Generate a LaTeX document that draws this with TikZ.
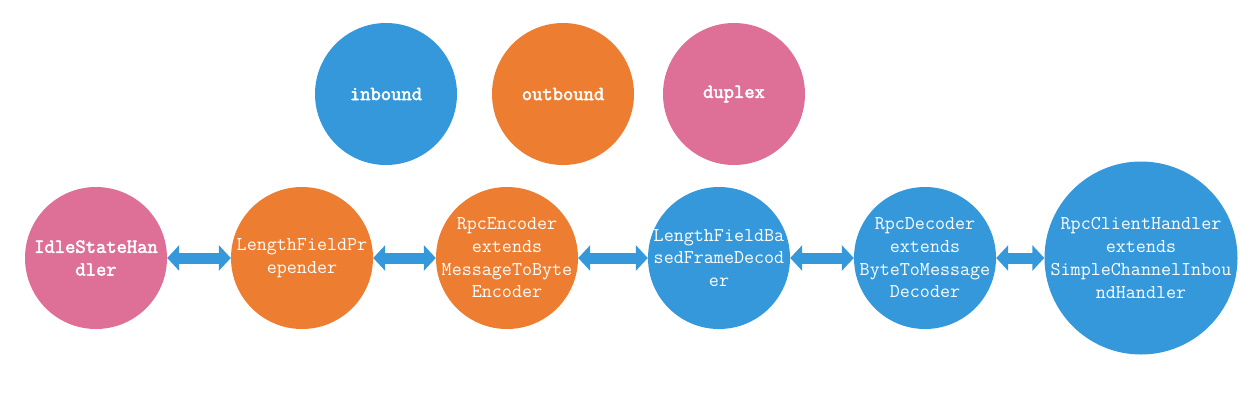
\documentclass[tikz,border=0pt]{standalone}
\usepackage{fontspec}
\newfontfamily\monofam{Latin Modern Mono}
\newfontfamily\monobold[FakeBold=2.5]{Latin Modern Mono}
\usetikzlibrary{arrows.meta}
\definecolor{cblue}{RGB}{52,152,219}
\definecolor{corange}{RGB}{237,125,49}
\definecolor{cpink}{RGB}{222,111,150}
\tikzset{
  ball/.style={circle, draw=none, inner sep=0pt, minimum size=142pt},
  bigball/.style={circle, draw=none, inner sep=0pt, minimum size=193pt},
  txt/.style={align=center, inner sep=0pt, text=white, font=\monofam\fontsize{19.5}{22.7}\selectfont},
  btxt/.style={align=center, inner sep=0pt, text=white, font=\monobold\fontsize{20}{22.7}\selectfont},
  link/.style={draw=cblue, line width=11pt, {Triangle[width=25pt,length=12pt]}-{Triangle[width=25pt,length=12pt]}}
}
\begin{document}
\begin{tikzpicture}[x=1pt,y=-1pt]
\useasboundingbox (0,0) rectangle (1256,413);
% legend
\node[ball, fill=cblue]   (in)  at (386,94) {};
\node[ball, fill=corange] (out) at (563,94) {};
\node[ball, fill=cpink]   (dup) at (734,94) {};
\node[btxt] at (in)  {inbound};
\node[btxt] at (out) {outbound};
\node[btxt] at (dup) {duplex};
% pipeline
\node[ball, fill=cpink]   (h1) at (96,258) {};
\node[ball, fill=corange] (h2) at (302,258) {};
\node[ball, fill=corange] (h3) at (507,258) {};
\node[ball, fill=cblue]   (h4) at (719,258) {};
\node[ball, fill=cblue]   (h5) at (925,258) {};
\node[bigball, fill=cblue] (h6) at (1141,258) {};
\node[btxt] at (h1) {IdleStateHan\\dler};
\node[txt] at (h2) {LengthFieldPr\\epender};
\node[txt] at (h3) {RpcEncoder\\extends\\MessageToByte\\Encoder};
\node[txt] at (h4) {LengthFieldBa\\sedFrameDecod\\er};
\node[txt] at (h5) {RpcDecoder\\extends\\ByteToMessage\\Decoder};
\node[txt] at (h6) {RpcClientHandler\\extends\\SimpleChannelInbou\\ndHandler};
\draw[link] (h1) -- (h2);
\draw[link] (h2) -- (h3);
\draw[link] (h3) -- (h4);
\draw[link] (h4) -- (h5);
\draw[link] (h5) -- (h6);
\end{tikzpicture}
\end{document}
